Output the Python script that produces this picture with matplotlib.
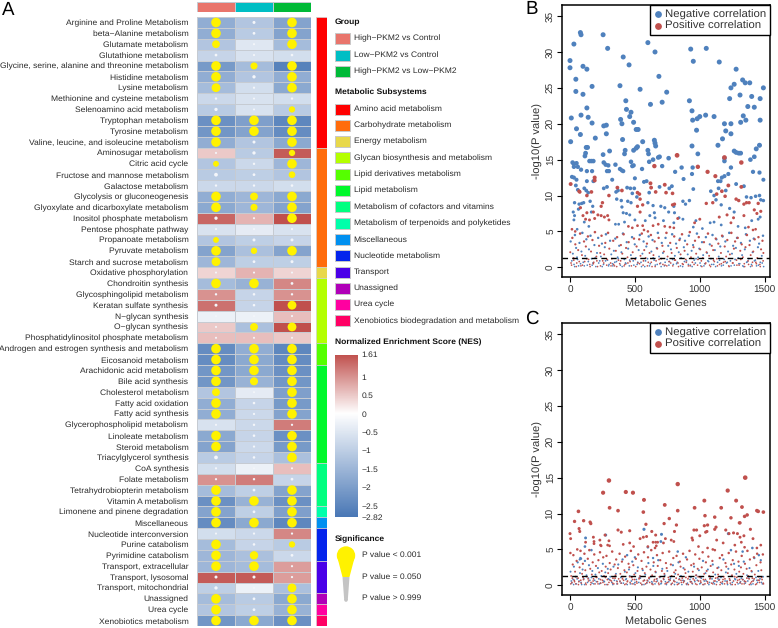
"""
Metabolic pathway enrichment heatmap (A) and gene correlation scatter plots (B, C)
"""
import numpy as np
import matplotlib
matplotlib.use('Agg')
import matplotlib.pyplot as plt
from matplotlib.colors import LinearSegmentedColormap, TwoSlopeNorm
from matplotlib.patches import Polygon, Rectangle, Circle

plt.rcParams['font.family'] = ['Liberation Sans', 'DejaVu Sans']
plt.rcParams['text.hinting'] = 'no_hinting'

pathways = ['Arginine and Proline Metabolism', 'beta\u2212Alanine metabolism', 'Glutamate metabolism',
            'Glutathione metabolism', 'Glycine, serine, alanine and threonine metabolism', 'Histidine metabolism',
            'Lysine metabolism', 'Methionine and cysteine metabolism', 'Selenoamino acid metabolism',
            'Tryptophan metabolism', 'Tyrosine metabolism', 'Valine, leucine, and isoleucine metabolism',
            'Aminosugar metabolism', 'Citric acid cycle', 'Fructose and mannose metabolism', 'Galactose metabolism',
            'Glycolysis or gluconeogenesis', 'Glyoxylate and dicarboxylate metabolism', 'Inositol phosphate metabolism',
            'Pentose phosphate pathway', 'Propanoate metabolism', 'Pyruvate metabolism', 'Starch and sucrose metabolism',
            'Oxidative phosphorylation', 'Chondroitin synthesis', 'Glycosphingolipid metabolism',
            'Keratan sulfate synthesis', 'N\u2212glycan synthesis', 'O\u2212glycan synthesis',
            'Phosphatidylinositol phosphate metabolism', 'Androgen and estrogen synthesis and metabolism',
            'Eicosanoid metabolism', 'Arachidonic acid metabolism', 'Bile acid synthesis', 'Cholesterol metabolism',
            'Fatty acid oxidation', 'Fatty acid synthesis', 'Glycerophospholipid metabolism', 'Linoleate metabolism',
            'Steroid metabolism', 'Triacylglycerol synthesis', 'CoA synthesis', 'Folate metabolism',
            'Tetrahydrobiopterin metabolism', 'Vitamin A metabolism', 'Limonene and pinene degradation', 'Miscellaneous',
            'Nucleotide interconversion', 'Purine catabolism', 'Pyrimidine catabolism', 'Transport, extracellular',
            'Transport, lysosomal', 'Transport, mitochondrial', 'Unassigned', 'Urea cycle', 'Xenobiotics metabolism']

# NES per pathway, one list per comparison
nes_high_ctrl = [-1.7, -1.7, -1.2, -0.9, -2.1, -1.7, -1.4, -0.8, -1.1, -2.3, -2.2, -1.7, 0.5, -1.2, -1.1, -0.8,
                 -1.7, -1.8, 1.4, -0.6, -1.2, -1.9, -1.5, 0.4, -1.4, 1.0, 1.3, -0.3, 0.5, 0.6, -2.4, -2.4, -2.2,
                 -2.2, -1.2, -1.7, -1.7, -0.6, -1.8, -1.9, -1.1, -0.7, 1.0, -1.4, -2.3, -1.9, -2.4, -0.7, -1.4,
                 -1.5, -1.5, 1.5, -1.0, -1.4, -1.2, -2.2]
nes_low_ctrl = [-1.2, -1.1, -0.5, -0.6, -1.4, -1.2, -0.7, -0.6, -0.6, -2.0, -1.9, -1.2, -1.1, -0.8, -1.0, -0.8,
                -1.5, -1.5, 0.7, -0.4, -1.0, -1.3, -1.0, 0.7, -1.6, -0.9, -0.9, -0.3, -1.3, 0.6, -1.7, -1.8, -1.8,
                -1.6, -0.4, -0.9, -0.8, -0.8, -0.9, -0.8, -0.9, -0.3, 1.2, -1.0, -1.6, -1.0, -1.8, -0.8, -0.9,
                -1.3, -1.4, 1.5, -0.3, -1.1, -1.0, -1.8]
nes_high_low = [-1.9, -1.9, -1.4, -0.7, -2.6, -1.7, -1.8, -0.7, -1.1, -2.5, -2.4, -1.8, 1.5, -1.5, -1.2, -0.7,
                -1.8, -1.9, 1.6, -0.6, -0.9, -1.9, -1.0, 0.4, 1.1, 1.0, 1.6, 0.6, 1.6, 0.5, -2.5, -2.4, -2.3,
                -2.2, -2.0, -2.1, -1.9, 1.2, -2.3, -2.1, -1.3, 0.6, -0.9, -1.9, -2.3, -2.0, -2.5, 1.1, -1.1,
                -0.8, 0.9, 0.9, -1.3, -1.8, -1.6, -2.3]

# P values per pathway
p_high_ctrl = [.001, .001, .005, .5, .001, .001, .002, .7, .3, .001, .001, .001, .95, .03, .2, .7, .001, .001, .3,
               .9, .03, .001, .002, .95, .001, .7, .4, .99, .95, .95, .001, .001, .001, .001, .005, .001, .001, .9,
               .001, .001, .2, .8, .8, .001, .001, .001, .001, .9, .001, .001, .001, .4, .3, .001, .001, .001]
p_low_ctrl = [.4, .5, .9, .9, .01, .3, .8, .95, .95, .001, .001, .4, .3, .7, .5, .7, .005, .01, .9, .99, .4, .02,
              .5, .95, .001, .6, .6, .99, .005, .95, .001, .001, .001, .004, .95, .6, .8, .7, .6, .8, .6, .99, .7,
              .5, .001, .5, .001, .8, .6, .003, .001, .4, .98, .5, .5, .001]
p_high_low = [.001, .001, .001, .6, .001, .001, .001, .7, .02, .001, .001, .001, .02, .001, .015, .6, .001, .001,
              .001, .8, .4, .001, .4, .95, .5, .7, .002, .9, .002, .95, .001, .001, .001, .001, .001, .001, .001,
              .8, .001, .001, .001, .9, .5, .001, .001, .001, .001, .8, .02, .5, .85, .8, .002, .001, .001, .001]

groups = ['High\u2212PKM2 vs Control', 'Low\u2212PKM2 vs Control', 'High\u2212PKM2 vs Low\u2212PKM2']
group_colors = ['#E9756C', '#00BEC4', '#00BA38']

subsystems = ['Amino acid metabolism', 'Carbohydrate metabolism', 'Energy metabolism',
              'Glycan biosynthesis and metabolism', 'Lipid derivatives metabolism', 'Lipid metabolism',
              'Metabolism of cofactors and vitamins', 'Metabolism of terpenoids and polyketides', 'Miscellaneous',
              'Nucleotide metabolism', 'Transport', 'Unassigned', 'Urea cycle',
              'Xenobiotics biodegradation and metabolism']
subsystem_counts = [12, 11, 1, 6, 2, 9, 4, 1, 1, 3, 3, 1, 1, 1]
subsystem_colors = ['#FF0000', '#FF6C0C', '#E8D84A', '#B4FF00', '#55FF00', '#00F82C', '#00FF80', '#00FFAA',
                    '#0090F0', '#0424EC', '#4A00E8', '#B000B8', '#FF00A0', '#FF0064']

nes_ticks = [1.61, 1, 0.5, 0, -0.5, -1, -1.5, -2, -2.5, -2.82]
nes_tick_labels = ['1.61', '1', '0.5', '0', '\u22120.5', '\u22121', '\u22121.5', '\u22122', '\u22122.5', '\u22122.82']

# Panel B, (gene index, -log10 P)
b_neg_high = [(0, 28.8), (0, 27.8), (10, 20.8), (5, 17.5), (30, 31.1), (45, 26.2), (45, 24.5), (50, 19.3), (80, 32.7),
              (85, 32.4), (85, 21.2), (80, 18.5), (100, 28), (100, 24.1), (130, 27.6), (130, 22.2), (140, 20.9),
              (170, 25.2), (170, 20.1), (195, 18), (255, 32.4), (290, 30.5), (260, 19.7), (280, 19.8), (280, 18.6),
              (385, 25.3), (410, 29.3), (455, 28.2), (390, 20.6), (400, 20), (430, 23.2), (435, 22), (470, 21.6),
              (460, 21), (490, 20.2), (510, 19.2), (525, 19.2), (540, 24.8), (600, 31.3), (620, 22.7), (655, 30),
              (685, 26.6), (710, 23), (745, 24.4), (930, 30.4), (950, 28.7), (1050, 30.5), (1150, 28.6), (920, 23.2),
              (940, 21.8), (945, 20.5), (980, 20.7), (1000, 21), (1045, 21.2), (1110, 21), (975, 19.1), (1190, 20),
              (1240, 20), (1230, 23.5), (1240, 25), (1265, 25.5), (1280, 27.6), (1310, 24), (1330, 26.1), (1350, 25.7),
              (1385, 25.7), (1400, 23.8), (1370, 22.4), (1420, 22.3), (1465, 23.5), (1490, 25), (1335, 21.1),
              (1315, 20.2), (1355, 20.5), (1465, 20.5), (1200, 19), (1240, 18.6), (1175, 17.9), (1140, 17),
              (15, 12.6), (20, 14.6), (30, 14.4), (30, 14), (50, 14.5), (60, 14), (85, 13.6), (30, 12.5), (50, 12.2),
              (115, 15.5), (120, 15.9), (125, 16.7), (135, 16.7), (130, 13.4), (150, 14.8), (165, 14.8), (180, 14.8),
              (170, 13.4), (255, 15.7), (260, 14.6), (275, 14.3), (295, 14.2), (285, 13.4), (300, 13.4), (305, 16.2),
              (350, 14.3), (385, 13.7), (400, 13.5), (410, 13.4), (405, 17.8), (420, 15.8), (425, 16.3), (490, 14.2),
              (470, 14.7), (480, 14.1), (490, 16.3), (510, 16.6), (520, 16.8), (560, 17.5), (555, 13.7), (600, 16.3),
              (605, 15.8), (640, 15), (650, 17.7), (655, 17.3), (660, 16.9), (680, 15.3), (690, 15.4), (610, 14.7),
              (710, 14.1), (760, 15.2), (810, 13.3), (860, 13.9), (940, 16.9), (945, 13.9), (940, 13), (985, 15.8),
              (1190, 15.2), (1190, 14.8), (1240, 13.9), (1220, 13), (1265, 16.2), (1280, 16), (1315, 15.9), (1300, 15.9),
              (1390, 15), (1420, 15.4), (1435, 16.5), (1460, 17), (1460, 13.2), (1410, 13.3), (1490, 12.2), (1190, 12.7),
              (1140, 12), (1160, 12), (1170, 12.5)]
b_neg_mid = [(35, 9), (45, 11.4), (60, 10.8), (25, 7.7), (35, 7.2), (70, 8.8), (90, 8.9), (65, 8.1), (110, 11), (130, 12),
             (125, 10.7), (140, 10.4), (105, 9), (155, 9.2), (175, 8.5), (165, 7.7), (180, 12), (260, 11), (285, 11.2),
             (325, 12.2), (355, 10.5), (370, 10.7), (360, 9.5), (395, 9.3), (400, 8.4), (410, 7.6), (440, 11.1), (465, 11),
             (495, 11), (500, 12.4), (480, 10.3), (445, 9.2), (470, 9), (515, 9.8), (570, 11.9), (590, 12), (610, 10.4),
             (600, 9), (640, 8.6), (650, 7.6), (690, 11.2), (700, 8.5), (730, 8.3), (765, 11), (785, 11.3), (800, 8.5),
             (805, 7.6), (760, 7.7), (875, 12.3), (870, 9.2), (890, 8.8), (920, 9.3), (950, 10.9), (1085, 10.6), (1110, 10),
             (1125, 9.4), (1145, 11), (1165, 8.7), (1200, 10.7), (1230, 8.2), (1265, 7.7), (1280, 11.6), (1340, 11.3),
             (1360, 9.8), (1395, 9.7), (1430, 9.9), (1460, 10), (1470, 9.4), (1490, 9.3), (1450, 6.7), (1465, 7), (1400, 6.5),
             (30, 6.6), (55, 5.3), (110, 6.3), (145, 5.7), (350, 6), (375, 6), (420, 6.3), (435, 7.5), (460, 7.3), (500, 6.6),
             (580, 6.5), (615, 7.2), (655, 6.9), (720, 6.5), (800, 6.2), (840, 6.9), (870, 6.7), (950, 5.6), (970, 6.5),
             (1020, 5.4), (1080, 6.2), (1110, 6.3), (1165, 5.9), (1295, 5.7), (1350, 5.5)]
b_pos_high = [(5, 11.6), (70, 10.6), (75, 10.5), (130, 10), (165, 10.5), (190, 12.5), (190, 12.1), (300, 10), (365, 11.1),
              (400, 10.7), (520, 10.4), (535, 10.2), (620, 11.7), (625, 11.1), (650, 14.1), (730, 11.5), (740, 10.4),
              (790, 10.3), (825, 15.6), (985, 14), (1060, 13.3), (1120, 12.7), (1190, 15.3), (1220, 11.4), (1320, 14.6),
              (1320, 11.2), (1170, 10.6), (1130, 10.2), (1100, 9), (1050, 8.9), (790, 8.7), (805, 8.8), (1280, 9.5),
              (1300, 9.3), (1340, 8.8), (1360, 9), (1380, 9), (1340, 7.2), (1420, 8), (1440, 7.5), (1450, 8.9), (1470, 7.8),
              (1430, 5.3), (1410, 5.2), (1210, 7.3), (1150, 7), (1000, 6.7), (960, 6.2), (830, 6.8), (770, 5.6), (800, 5.5),
              (730, 5.7), (680, 6), (640, 5.8), (560, 5.8), (570, 5.2), (600, 5), (520, 5.8), (480, 5.5), (450, 5.7),
              (520, 8.5), (540, 9.5), (560, 8.7), (540, 7.7), (660, 10.5), (250, 9), (240, 8.5), (215, 7.3), (240, 7.2),
              (265, 7), (290, 7.2), (300, 6.6), (180, 7.7), (190, 6.8), (150, 6.6), (120, 6.7), (100, 7.2), (130, 7.6),
              (80, 8.3), (15, 5.3), (40, 5), (1260, 6.9), (1195, 9.9), (1240, 6.2), (1375, 5.6)]
# dots below 5 are too dense to separate, these are estimated
b_neg_low = [(5, 3.6), (22, 1.9), (31, 0.4), (38, 4.5), (47, 2.7), (58, 1.1), (66, 0.2), (73, 3.4), (88, 2.2), (95, 4.8), (102, 0.7),
             (117, 1.6), (126, 3.9), (133, 0.3), (146, 2.5), (158, 4.4), (167, 1.2), (176, 0.6), (188, 3.1), (199, 0.1), (208, 2.0),
             (217, 4.1), (229, 0.9), (238, 1.5), (246, 3.3), (258, 0.4), (268, 2.8), (277, 4.6), (289, 1.0), (297, 0.2), (309, 3.7),
             (318, 1.8), (327, 0.5), (338, 2.3), (349, 4.0), (358, 0.8), (367, 1.4), (379, 3.0), (388, 0.3), (396, 2.1), (408, 4.7),
             (419, 1.1), (428, 0.6), (437, 3.5), (448, 2.6), (457, 0.2), (469, 1.7), (478, 4.2), (487, 0.9), (499, 3.2), (508, 1.3),
             (517, 0.4), (529, 2.4), (538, 4.5), (547, 0.7), (558, 1.9), (567, 3.6), (576, 0.1), (588, 2.9), (597, 1.2), (606, 4.3),
             (618, 0.5), (627, 2.2), (636, 3.8), (648, 1.0), (657, 0.3), (668, 2.7), (677, 4.8), (686, 1.5), (698, 0.6), (707, 3.4),
             (716, 2.0), (727, 0.2), (736, 4.1), (748, 1.1), (757, 3.0), (766, 0.8), (778, 2.5), (787, 4.6), (796, 0.4), (808, 1.6),
             (817, 3.3), (826, 0.7), (838, 2.1), (847, 4.0), (856, 1.3), (868, 0.1), (877, 2.8), (886, 3.7), (898, 0.9), (907, 1.8),
             (916, 4.4), (928, 0.3), (937, 2.3), (948, 3.1), (957, 1.0), (966, 0.6), (978, 4.7), (987, 1.4), (996, 2.6), (1008, 0.2),
             (1017, 3.5), (1026, 1.7), (1038, 0.5), (1047, 4.2), (1056, 2.0), (1068, 0.8), (1077, 3.2), (1086, 1.2), (1098, 4.5),
             (1107, 0.4), (1116, 2.4), (1128, 3.9), (1137, 0.7), (1146, 1.5), (1158, 2.9), (1167, 0.2), (1176, 4.3), (1188, 1.1),
             (1197, 3.6), (1206, 0.6), (1218, 2.2), (1227, 4.8), (1236, 0.9), (1248, 1.9), (1257, 3.0), (1266, 0.3), (1278, 2.7),
             (1287, 4.1), (1296, 1.3), (1308, 0.5), (1317, 3.4), (1326, 1.7), (1338, 0.1), (1347, 2.5), (1356, 4.6), (1368, 0.8),
             (1377, 1.2), (1386, 3.7), (1398, 0.4), (1407, 2.1), (1416, 4.0), (1428, 1.0), (1437, 0.2), (1448, 2.8), (1457, 3.3),
             (1466, 0.7), (1478, 1.6), (1487, 4.4), (1492, 0.1)]
b_pos_low = [(2, 2.1), (12, 0.3), (18, 4.1), (27, 1.3), (41, 3.2), (52, 0.6), (63, 2.4), (78, 4.7), (84, 0.2), (92, 1.7), (108, 3.6),
             (113, 0.8), (122, 2.9), (138, 4.3), (143, 1.1), (152, 0.4), (162, 2.2), (173, 3.8), (183, 0.7), (192, 4.9), (203, 1.5),
             (212, 0.1), (224, 3.0), (233, 2.0), (243, 4.4), (252, 0.9), (263, 1.8), (272, 3.4), (283, 0.3), (293, 4.8), (303, 2.6),
             (313, 0.6), (322, 1.2), (333, 3.7), (343, 0.2), (353, 2.3), (363, 4.2), (373, 1.0), (383, 0.5), (392, 3.1), (403, 1.9),
             (413, 4.6), (423, 0.4), (432, 2.7), (443, 1.4), (452, 3.5), (463, 0.8), (473, 0.2), (483, 2.1), (493, 4.0), (503, 1.1),
             (513, 2.9), (523, 0.6), (533, 3.9), (543, 1.6), (553, 4.7), (563, 0.3), (572, 2.4), (583, 1.3), (593, 3.3), (603, 0.7),
             (613, 2.0), (623, 4.5), (632, 0.1), (643, 1.7), (652, 3.6), (663, 0.9), (672, 2.6), (683, 4.1), (692, 0.5), (703, 1.2),
             (712, 3.0), (723, 2.2), (732, 0.3), (743, 4.8), (752, 1.5), (763, 0.8), (772, 3.4), (783, 2.0), (792, 0.2), (803, 4.3),
             (812, 1.0), (823, 2.7), (832, 0.6), (843, 3.8), (852, 1.8), (863, 4.6), (872, 0.4), (883, 2.3), (892, 1.1), (903, 3.2),
             (912, 0.2), (923, 4.9), (932, 1.4), (943, 0.7), (952, 2.8), (963, 3.7), (972, 1.9), (983, 0.3), (992, 4.2), (1003, 2.5),
             (1012, 0.9), (1023, 1.3), (1032, 3.5), (1043, 0.5), (1052, 2.1), (1063, 4.7), (1072, 1.6), (1083, 0.1), (1092, 3.0),
             (1103, 2.4), (1112, 0.8), (1123, 4.0), (1132, 1.2), (1143, 3.3), (1152, 0.4), (1163, 2.0), (1172, 4.4), (1183, 0.7),
             (1192, 2.9), (1203, 1.5), (1212, 3.8), (1223, 0.2), (1232, 1.8), (1243, 4.8), (1252, 0.6), (1263, 2.6), (1272, 3.6),
             (1283, 1.0), (1292, 4.1), (1303, 0.3), (1312, 2.3), (1323, 3.2), (1332, 1.4), (1343, 0.5), (1352, 2.8), (1363, 4.5),
             (1372, 0.9), (1383, 3.1), (1392, 1.7), (1403, 0.2), (1412, 2.2), (1423, 3.9), (1432, 0.7), (1443, 1.3), (1452, 4.2),
             (1463, 0.4), (1472, 2.5), (1483, 3.7), (1490, 2.0)]
# extra estimated dots hugging the zero line
b_neg_zero = [(14, 0.9), (36, 0.1), (54, 1.4), (81, 0.5), (110, 0.2), (141, 0.8), (171, 0.3), (194, 1.3), (221, 0.6), (248, 0.1), (274, 0.9),
              (301, 0.4), (330, 0.2), (345, 0.7), (372, 1.2), (402, 0.1), (431, 0.5), (460, 1.0), (492, 0.3), (522, 0.7), (551, 0.1), (582, 0.9),
              (612, 0.2), (641, 1.3), (672, 0.4), (702, 0.1), (733, 0.7), (762, 0.3), (791, 1.1), (821, 0.5), (851, 0.2), (882, 0.8), (912, 0.4),
              (941, 0.1), (971, 1.2), (1002, 0.6), (1032, 0.2), (1062, 0.9), (1092, 0.4), (1122, 0.1), (1152, 1.0), (1181, 0.3), (1212, 0.7),
              (1241, 0.2), (1272, 1.1), (1301, 0.5), (1331, 0.2), (1361, 0.7), (1391, 0.1), (1421, 0.9), (1452, 0.3), (1481, 0.6)]
b_pos_zero = [(8, 0.6), (29, 1.0), (48, 0.1), (71, 0.8), (96, 0.3), (128, 1.2), (155, 0.1), (180, 0.5), (207, 0.9), (235, 0.2), (260, 0.6),
              (286, 1.1), (316, 0.2), (336, 0.4), (360, 0.1), (390, 0.9), (417, 0.2), (446, 0.6), (476, 1.2), (506, 0.1), (536, 0.5), (566, 0.9),
              (596, 0.2), (626, 0.7), (656, 0.1), (686, 1.1), (716, 0.4), (746, 0.2), (776, 0.6), (806, 1.0), (836, 0.1), (866, 0.5), (896, 0.7),
              (926, 0.2), (956, 0.4), (986, 1.1), (1016, 0.1), (1046, 0.6), (1076, 0.3), (1106, 1.0), (1136, 0.2), (1166, 0.5), (1196, 0.8),
              (1226, 0.1), (1256, 0.6), (1286, 0.3), (1316, 1.1), (1346, 0.1), (1376, 0.4), (1406, 0.7), (1436, 0.5), (1466, 0.1), (1488, 0.9)]

# Panel C, same layout
c_pos_high = [(255, 12.9), (300, 14.6), (305, 10.8), (430, 13), (485, 12.9), (570, 11.9), (830, 14.1), (730, 11.2), (1035, 11.8),
              (960, 10.8), (1215, 13.2), (1350, 15), (1280, 11.8), (1325, 10.9), (1490, 10.2), (1440, 10.4), (1450, 10.3),
              (1365, 9.8), (1345, 9.6), (1240, 9.4), (1165, 10.8), (1115, 9.5), (1040, 9.7), (830, 10.4), (565, 10.2), (370, 10.4),
              (65, 10.3), (35, 8.9), (105, 9), (155, 8.8), (160, 8.6), (585, 8.5), (725, 8.6), (765, 9.3), (820, 8.4), (1060, 8.4),
              (1035, 8.3), (1125, 8.1), (1310, 8.7), (1305, 8.7), (1390, 7.8), (70, 7.9), (75, 7.5), (0, 7.2), (5, 6.5), (120, 6),
              (270, 7), (370, 7.7), (395, 7.4), (460, 7.6), (630, 7.5), (660, 7), (805, 7.5), (955, 7.7), (975, 7.7), (1000, 6.9),
              (1045, 7.4), (1055, 7.5), (1115, 7.8), (1200, 7.7), (1225, 7.2), (1260, 7.3), (1290, 7.2), (1310, 6.7), (1340, 6.9),
              (1410, 6.5), (180, 6.7), (185, 6.1), (185, 5.8), (230, 6.3), (235, 5.6), (240, 5.5), (300, 6.2), (290, 5.6), (305, 5.5),
              (410, 5.7), (460, 5.9), (490, 5.4), (540, 6.5), (565, 6.7), (590, 6.8), (600, 5.4), (640, 6), (660, 6), (675, 6),
              (665, 5.5), (655, 5.2), (720, 5.9), (735, 6.5), (780, 6.3), (800, 6.1), (940, 6.6), (945, 6.3), (990, 5.4),
              (1060, 5.2), (1100, 5), (1130, 6.3), (1180, 5.9), (1270, 5.6), (1320, 6), (1345, 5.3), (1470, 5.6), (1440, 5.2)]
c_neg_high = [(570, 7.8), (275, 7), (120, 6.6), (705, 7.1), (700, 6.1), (1220, 7.2), (600, 5.3), (1405, 5.2), (830, 4.7), (1240, 4.9),
              (115, 5.4), (165, 4.9), (80, 3.8), (75, 3.6), (85, 3.7), (1455, 4.2), (1330, 4.7), (640, 3.8), (440, 4.2), (500, 3.9)]
c_pos_low = [(3, 4.5), (9, 1.3), (15, 0.4), (21, 2.9), (26, 4.2), (33, 0.7), (39, 1.9), (44, 0.2), (51, 3.4), (56, 5.0), (62, 1.0), (68, 0.5),
             (74, 2.5), (81, 4.8), (87, 0.3), (93, 1.6), (99, 3.0), (104, 0.8), (111, 4.4), (118, 2.1), (124, 0.1), (131, 1.2), (137, 3.7),
             (143, 0.6), (149, 4.9), (156, 2.3), (162, 0.4), (168, 1.5), (175, 3.2), (181, 0.9), (187, 4.3), (193, 0.2), (200, 2.7),
             (206, 1.1), (212, 0.5), (219, 3.5), (225, 1.8), (231, 4.6), (237, 0.3), (244, 2.0), (250, 0.7), (256, 3.9), (262, 1.3),
             (269, 0.1), (275, 2.6), (281, 4.1), (288, 0.8), (294, 1.7), (300, 0.4), (306, 3.1), (313, 2.2), (319, 0.6), (325, 4.7),
             (331, 1.0), (338, 0.2), (344, 2.9), (350, 1.4), (356, 3.6), (363, 0.5), (369, 2.4), (375, 0.9), (382, 4.4), (388, 1.6),
             (394, 0.3), (400, 3.3), (407, 1.2), (413, 0.7), (419, 2.1), (425, 4.0), (432, 0.2), (438, 1.8), (444, 0.6), (451, 3.0),
             (457, 2.5), (463, 0.4), (469, 4.8), (476, 1.1), (482, 0.8), (488, 2.8), (495, 1.5), (501, 0.1), (507, 3.7), (513, 0.5),
             (520, 2.0), (526, 4.3), (532, 0.9), (539, 1.3), (545, 0.3), (551, 3.4), (557, 2.3), (564, 0.6), (570, 4.6), (576, 1.7),
             (582, 0.2), (589, 2.6), (595, 0.7), (601, 3.9), (608, 1.0), (614, 0.4), (620, 2.2), (626, 4.9), (633, 1.4), (639, 0.1),
             (645, 3.2), (651, 0.8), (658, 1.9), (664, 0.5), (670, 4.2), (676, 2.7), (683, 0.3), (689, 1.2), (695, 3.5), (702, 0.6),
             (708, 2.0), (714, 4.5), (720, 0.9), (727, 1.6), (733, 0.2), (739, 3.1), (745, 2.4), (752, 0.4), (758, 1.1), (764, 4.7),
             (771, 0.7), (777, 2.9), (783, 1.3), (789, 0.3), (796, 3.8), (802, 1.8), (808, 0.5), (814, 2.1), (821, 4.1), (827, 0.1),
             (833, 1.5), (840, 0.8), (846, 3.3), (852, 2.6), (858, 0.4), (865, 1.0), (871, 4.4), (877, 0.6), (884, 2.2), (890, 1.7),
             (896, 0.2), (902, 3.6), (909, 0.9), (915, 1.2), (921, 4.8), (927, 0.5), (934, 2.8), (940, 0.3), (946, 1.9), (953, 3.0),
             (959, 0.7), (965, 4.3), (971, 1.4), (978, 0.1), (984, 2.3), (990, 0.6), (997, 3.7), (1003, 1.1), (1009, 0.4), (1015, 2.5),
             (1022, 4.6), (1028, 0.8), (1034, 1.6), (1040, 0.2), (1047, 3.2), (1053, 2.0), (1059, 0.5), (1066, 4.0), (1072, 1.3),
             (1078, 0.9), (1084, 2.7), (1091, 0.3), (1097, 3.4), (1103, 1.8), (1110, 0.6), (1116, 4.9), (1122, 1.0), (1128, 0.1),
             (1135, 2.4), (1141, 1.5), (1147, 0.7), (1154, 3.8), (1160, 0.4), (1166, 2.1), (1172, 4.2), (1179, 0.8), (1185, 1.2),
             (1191, 0.2), (1198, 3.1), (1204, 2.6), (1210, 0.5), (1216, 1.7), (1223, 4.5), (1229, 0.9), (1235, 0.3), (1242, 2.9),
             (1248, 1.4), (1254, 3.5), (1260, 0.6), (1267, 2.2), (1273, 0.1), (1279, 4.7), (1285, 1.1), (1292, 0.7), (1298, 3.3),
             (1304, 1.9), (1311, 0.4), (1317, 2.5), (1323, 4.1), (1329, 0.8), (1336, 1.6), (1342, 0.2), (1348, 3.0), (1354, 0.5),
             (1361, 2.3), (1367, 4.8), (1373, 1.3), (1380, 0.9), (1386, 3.6), (1392, 0.3), (1398, 2.0), (1405, 1.0), (1411, 0.6),
             (1417, 3.9), (1424, 1.5), (1430, 0.1), (1436, 2.8), (1442, 4.4), (1449, 0.7), (1455, 1.2), (1461, 0.4), (1468, 3.2),
             (1474, 2.1), (1480, 0.8), (1486, 4.3), (1491, 0.2)]
c_neg_low = [(4, 1.9), (13, 0.3), (24, 0.8), (30, 2.6), (42, 1.2), (49, 0.2), (59, 3.2), (70, 0.6), (77, 1.7), (90, 0.1), (97, 2.2), (106, 0.9),
             (115, 3.4), (127, 1.4), (135, 0.4), (146, 2.8), (153, 0.7), (165, 1.1), (172, 2.0), (183, 0.2), (196, 1.5), (203, 0.5),
             (215, 2.4), (222, 0.9), (234, 0.3), (241, 1.3), (253, 3.0), (260, 0.6), (272, 1.8), (284, 0.1), (291, 2.3), (303, 0.8),
             (310, 1.2), (322, 0.4), (335, 2.6), (342, 0.7), (354, 1.6), (361, 0.2), (372, 2.9), (385, 0.5), (392, 1.1), (405, 3.6),
             (411, 0.3), (423, 1.9), (434, 0.9), (441, 0.1), (454, 2.2), (460, 1.3), (473, 0.6), (480, 3.3), (492, 0.2), (504, 1.7),
             (511, 0.8), (523, 2.5), (530, 0.4), (542, 1.0), (554, 0.1), (561, 2.1), (573, 0.7), (580, 1.5), (592, 0.3), (604, 3.1),
             (611, 0.9), (623, 1.2), (630, 0.5), (642, 2.7), (655, 0.2), (661, 1.8), (673, 0.6), (680, 3.5), (692, 1.1), (704, 0.3),
             (711, 2.3), (723, 0.8), (730, 1.4), (743, 0.1), (750, 2.0), (761, 0.5), (774, 1.0), (781, 0.2), (793, 2.8), (800, 0.7),
             (811, 1.6), (824, 0.4), (836, 3.2), (843, 0.9), (855, 1.3), (862, 0.1), (874, 2.4), (881, 0.6), (893, 3.9), (905, 0.3),
             (912, 1.9), (924, 0.8), (931, 1.1), (943, 0.2), (956, 2.6), (962, 0.5), (974, 1.4), (981, 0.7), (993, 2.1), (1006, 0.3),
             (1012, 1.0), (1025, 3.4), (1031, 0.1), (1044, 1.7), (1050, 0.6), (1062, 2.2), (1075, 0.4), (1081, 1.2), (1094, 0.9),
             (1100, 2.9), (1113, 0.2), (1119, 1.5), (1132, 0.5), (1144, 2.5), (1151, 0.8), (1163, 1.1), (1170, 0.3), (1182, 3.6),
             (1195, 0.6), (1201, 1.8), (1214, 0.1), (1220, 2.3), (1233, 0.7), (1245, 1.3), (1251, 0.4), (1264, 3.0), (1270, 0.9),
             (1282, 1.6), (1295, 0.2), (1301, 2.7), (1314, 0.5), (1320, 1.0), (1333, 0.8), (1339, 3.3), (1351, 0.3), (1364, 1.4),
             (1370, 0.6), (1383, 2.4), (1395, 0.1), (1401, 1.9), (1414, 0.7), (1420, 3.8), (1433, 1.1), (1445, 0.4), (1451, 2.0),
             (1464, 0.9), (1470, 3.5), (1482, 0.2), (1488, 1.2)]
c_pos_zero = [(6, 0.2), (18, 1.0), (35, 0.5), (47, 1.2), (65, 0.1), (83, 0.7), (101, 1.1), (121, 0.3), (140, 0.9), (159, 0.1), (178, 0.6), (197, 1.2),
              (216, 0.2), (235, 0.8), (254, 0.4), (273, 1.1), (291, 0.1), (310, 0.7), (329, 0.3), (347, 1.0), (366, 0.2), (385, 0.6), (404, 0.9),
              (422, 0.1), (441, 0.5), (460, 1.2), (479, 0.2), (498, 0.8), (516, 0.3), (535, 1.0), (554, 0.1), (573, 0.7), (592, 0.4), (611, 1.1),
              (630, 0.2), (648, 0.6), (667, 0.9), (686, 0.1), (705, 0.5), (724, 1.2), (742, 0.3), (761, 0.8), (780, 0.1), (799, 0.6), (818, 1.0),
              (836, 0.2), (855, 0.7), (874, 0.4), (893, 1.1), (912, 0.1), (930, 0.5), (949, 0.9), (968, 0.2), (987, 1.2), (1006, 0.6), (1024, 0.1),
              (1043, 0.8), (1062, 0.3), (1081, 1.0), (1100, 0.2), (1118, 0.6), (1137, 1.1), (1156, 0.1), (1175, 0.5), (1194, 0.9), (1212, 0.3),
              (1231, 0.7), (1250, 0.1), (1269, 1.2), (1288, 0.4), (1306, 0.8), (1325, 0.2), (1344, 0.6), (1363, 1.0), (1382, 0.1), (1400, 0.5),
              (1419, 0.9), (1438, 0.2), (1457, 0.7), (1476, 1.1), (1489, 0.3)]
c_neg_zero = [(10, 0.6), (28, 0.1), (55, 0.9), (85, 0.4), (112, 0.1), (142, 1.0), (170, 0.3), (190, 0.7), (228, 0.2), (265, 0.5), (295, 0.9), (330, 0.1),
              (360, 0.6), (395, 0.3), (430, 0.8), (465, 0.2), (500, 0.4), (535, 1.1), (570, 0.1), (600, 0.6), (635, 0.3), (670, 0.9), (700, 0.2),
              (735, 0.5), (770, 0.8), (805, 0.1), (840, 0.3), (870, 0.7), (900, 0.1), (935, 0.5), (970, 1.0), (1000, 0.2), (1035, 0.6), (1070, 0.1),
              (1105, 0.4), (1140, 0.9), (1175, 0.2), (1210, 0.6), (1240, 0.1), (1275, 0.8), (1310, 0.3), (1345, 0.5), (1378, 1.0), (1410, 0.2),
              (1440, 0.7), (1475, 0.4)]

W, H = 778, 628
P_CUT = 1.3
BLUE, RED = '#4F81BD', '#C0504D'
TXT = '#2A2A2A'
nes_cmap = LinearSegmentedColormap.from_list('nes', ['#4A78B6', '#FFFFFF', '#C0504D'])
nes_norm = TwoSlopeNorm(vmin=-2.82, vcenter=0, vmax=1.61)


def px_axes(fig, left, top, right, bottom):
    # axes from pixel edges, y measured from the top of the picture
    return fig.add_axes([left / W, 1 - bottom / H, (right - left) / W, (bottom - top) / H])


def dot_radius(p):
    # radius in pixels grows with -log10(p)
    t = np.clip(-np.log10(np.asarray(p)) / 3, 0, 1)
    return 1.0 + 3.8 * t


def draw_heatmap(fig):
    ax = px_axes(fig, 197, 17, 311, 626)
    nes = np.column_stack([nes_high_ctrl, nes_low_ctrl, nes_high_low])
    pvals = np.column_stack([p_high_ctrl, p_low_ctrl, p_high_low])
    ax.pcolormesh(nes, cmap=nes_cmap, norm=nes_norm, edgecolors='#C6CBD2', linewidth=0.7)
    ax.set_xlim(0, 3)
    ax.set_ylim(len(pathways), 0)
    rows, cols = np.indices(pvals.shape)
    sizes = (2 * dot_radius(pvals) * 0.72) ** 2
    colors = np.where(pvals <= 0.05, '#FFF200', '#F4F6FA')
    ax.scatter(cols.ravel() + 0.5, rows.ravel() + 0.5, s=sizes.ravel(), c=colors.ravel(), linewidths=0, zorder=3)
    ax.set_yticks(np.arange(len(pathways)) + 0.5)
    ax.set_yticklabels(pathways, fontsize=6.1, color=TXT)
    ax.set_xticks([])
    ax.tick_params(axis='y', length=0, pad=6.2)
    for s in ax.spines.values():
        s.set_visible(False)

    top = px_axes(fig, 197, 2, 311, 12)
    top.bar(range(3), [1, 1, 1], width=1, color=group_colors, edgecolor='#C6CBD2', linewidth=0.7)
    top.set_xlim(-0.5, 2.5)
    top.set_ylim(0, 1)
    top.axis('off')

    side = px_axes(fig, 316, 17, 327, 626)
    starts = np.cumsum([0] + subsystem_counts[:-1])
    side.bar([0.5] * len(starts), subsystem_counts, width=1, bottom=starts, color=subsystem_colors,
             edgecolor='#D0D0D0', linewidth=0.5)
    side.set_xlim(0, 1)
    side.set_ylim(len(pathways), 0)
    side.axis('off')


def draw_legends(fig):
    ov = fig.add_axes([0, 0, 1, 1], zorder=-1)
    ov.set_xlim(0, W)
    ov.set_ylim(H, 0)
    ov.axis('off')

    def swatch(y, color):
        ov.add_patch(Rectangle((335, y - 5.5), 15, 11, facecolor=color, edgecolor='#C8C8C8', linewidth=0.7))

    def label(y, s):
        ov.text(353.7, y, s, fontsize=6.1, color=TXT, va='center', ha='left')

    def head(y, s):
        ov.text(335, y, s, fontsize=6.1, color='#111111', weight='bold', va='center', ha='left')

    head(22, 'Group')
    for i, (g, c) in enumerate(zip(groups, group_colors)):
        swatch(38.7 + i * 16.5, c)
        label(38.7 + i * 16.5, g)
    head(92.7, 'Metabolic Subsystems')
    for i, (name, c) in enumerate(zip(subsystems, subsystem_colors)):
        swatch(109 + i * 16.3, c)
        label(109 + i * 16.3, name)
    head(342.7, 'Normalized Enrichment Score (NES)')
    head(539, 'Significance')

    # bulb shaped key for the dot sizes
    ov.add_patch(Polygon([(337, 556), (355, 556), (349.5, 577), (342.5, 577)], facecolor='#FFF200', edgecolor='none'))
    ov.add_patch(Circle((346, 555.5), 9.2, facecolor='#FFF200', edgecolor='none'))
    ov.add_patch(Polygon([(342.5, 577), (349.5, 577), (347.8, 600), (344.2, 600)], facecolor='#C4C4C4', edgecolor='none'))
    ov.add_patch(Circle((346, 600), 1.8, facecolor='#C4C4C4', edgecolor='none'))
    for y, s in zip([555, 576.7, 598.3], ['P value < 0.001', 'P value = 0.050', 'P value > 0.999']):
        ov.text(361.7, y, s, fontsize=6.1, color=TXT, va='center', ha='left')

    ov.text(2, 10, 'A', fontsize=13.5, color='black', va='center', ha='left')
    ov.text(525, 9.5, 'B', fontsize=13.5, color='black', va='center', ha='left')
    ov.text(525, 319, 'C', fontsize=13.5, color='black', va='center', ha='left')

    cb = px_axes(fig, 334.5, 354.5, 357.5, 517.5)
    grad = np.linspace(1.61, -2.82, 256).reshape(-1, 1)
    cb.imshow(grad, aspect='auto', cmap=nes_cmap, norm=nes_norm, extent=[0, 1, -2.82, 1.61])
    cb.set_xticks([])
    cb.yaxis.tick_right()
    cb.set_yticks(nes_ticks)
    cb.set_yticklabels(nes_tick_labels, fontsize=6.1, color=TXT)
    cb.tick_params(axis='y', length=0, pad=3)
    for s in cb.spines.values():
        s.set_visible(False)


def point_sizes(y):
    d = np.clip(1.6 + 0.2 * np.asarray(y), 1.6, 5.0)
    return (d * 0.72) ** 2


def draw_scatter(fig, top, bottom, neg, pos):
    ax = px_axes(fig, 561.7, top, 770, bottom)
    neg = np.array(neg)
    pos = np.array(pos)
    ax.scatter(neg[:, 0], neg[:, 1], s=point_sizes(neg[:, 1]), color=BLUE, linewidths=0, label='Negative correlation')
    ax.scatter(pos[:, 0], pos[:, 1], s=point_sizes(pos[:, 1]), color=RED, linewidths=0, label='Positive correlation')
    ax.axhline(P_CUT, color='black', linestyle=(0, (4, 3)), linewidth=1.0, zorder=4)
    ax.set_xlim(-64, 1541)
    ax.set_ylim(-1.35, 36.5)
    ax.set_xticks([0, 500, 1000, 1500])
    ax.set_yticks(range(0, 36, 5))
    ax.tick_params(axis='both', labelsize=7.2, labelcolor='#333333', length=3.5, width=0.8)
    ax.tick_params(axis='x', pad=2.5)
    ax.tick_params(axis='y', pad=1)
    for t in ax.get_yticklabels():
        t.set_rotation(90)
        t.set_va('center')
    ax.set_xlabel('Metabolic Genes', fontsize=7.8, color='#333333', labelpad=3)
    ax.set_ylabel('-log10(P value)', fontsize=8.1, color='#333333', labelpad=2)
    for s in ax.spines.values():
        s.set_linewidth(1.1)
    leg = ax.legend(loc='upper right', bbox_to_anchor=(1, 1), borderaxespad=0, fontsize=8.2, fancybox=False,
                    framealpha=1, edgecolor='black', handletextpad=0.25, labelspacing=0.1, borderpad=0.35,
                    handlelength=0.7, labelcolor='#333333')
    leg.get_frame().set_linewidth(1.0)
    for h in leg.legend_handles:
        h.set_sizes([24])


fig = plt.figure(figsize=(W / 100, H / 100), dpi=100)
draw_legends(fig)
draw_heatmap(fig)
draw_scatter(fig, 5.3, 277, b_neg_high + b_neg_mid + b_neg_low + b_neg_zero, b_pos_high + b_pos_low + b_pos_zero)
draw_scatter(fig, 323.3, 595, c_neg_high + c_neg_low + c_neg_zero, c_pos_high + c_pos_low + c_pos_zero)
fig.savefig('out.png', dpi=100)
